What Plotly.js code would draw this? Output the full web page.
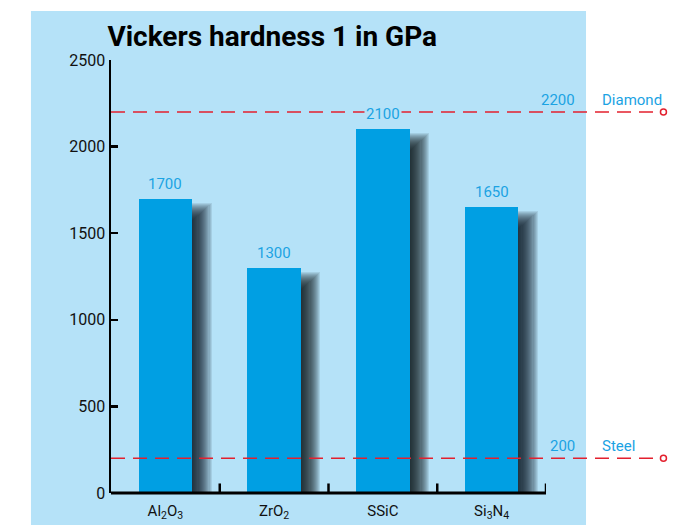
<!DOCTYPE html>
<html><head><meta charset="utf-8">
<script src="https://cdn.plot.ly/plotly-3.0.1.min.js"></script>
<style>html,body{margin:0;padding:0;background:#fff}#chart{width:684px;height:525px}</style>
</head><body><div id="chart"></div>
<script>
const categories = ['Al<sub>2</sub>O<sub>3</sub>', 'ZrO<sub>2</sub>', 'SSiC', 'Si<sub>3</sub>N<sub>4</sub>'];
const hardness = [1700, 1300, 2100, 1650];
const refNames = ['Diamond', 'Steel'];
const refValues = [2200, 200];
const yTickVals = [0, 500, 1000, 1500, 2000, 2500];

const FONT = 'Roboto, Liberation Sans, sans-serif';
const PANEL = '#b5e2f8';
const BAR = '#009fe3';
const TXT = '#1ba3e3';
const RED = '#e3202e';

const xIdx = categories.map((c, i) => i);
const pxX = 1 / 108.75;      // data units per pixel (x)
const pxY = 2500 / 433;      // data units per pixel (y)
const barW = 0.49;

const traces = [];
// soft drop shadow built from stacked translucent bars
const nLayers = 18;
for (let k = 0; k < nLayers; k++) {
  const r = -10 + k * 1.1;
  traces.push({
    type: 'bar', x: xIdx, y: hardness.map(v => v - (12 - r * 0.9) * pxY),
    offset: 0, width: (barW / 2) + (11 + r) * pxX,
    marker: { color: '#0e171b', line: { width: 0 } }, opacity: 0.095,
    hoverinfo: 'skip', showlegend: false
  });
}
traces.push({
  type: 'bar', x: xIdx, y: hardness, offset: -barW / 2, width: barW,
  marker: { color: BAR, line: { width: 0 } }, showlegend: false
});

const shapes = [
  { type: 'rect', xref: 'paper', yref: 'paper', x0: -0.184, x1: 1.092, y0: -0.08, y1: 1.113,
    fillcolor: PANEL, line: { width: 0 }, layer: 'below' },
  { type: 'line', xref: 'x', yref: 'paper', x0: -0.51, x1: 3.5, y0: 0, y1: 0,
    line: { color: '#000', width: 3 } }
];
[0.5, 1.5, 2.5, 3.5].forEach(t => shapes.push({
  type: 'line', xref: 'x', yref: 'paper', x0: t, x1: t, y0: 0, y1: 0.022,
  line: { color: '#000', width: 2.5 }
}));
refValues.forEach(v => {
  shapes.push({ type: 'line', xref: 'paper', yref: 'y', x0: 0, x1: 1.262, y0: v, y1: v,
    line: { color: RED, width: 1.5, dash: '14px,8px' } });
  shapes.push({ type: 'circle', xref: 'paper', yref: 'y', xsizemode: 'pixel', ysizemode: 'pixel',
    xanchor: 1.27, yanchor: v, x0: -3, x1: 3, y0: -3, y1: 3,
    line: { color: RED, width: 1.5 }, fillcolor: '#fff' });
});

const annotations = [];
hardness.forEach((v, i) => annotations.push({
  x: i, y: v, xref: 'x', yref: 'y', text: String(v), showarrow: false,
  yanchor: 'bottom', yshift: 4, bgcolor: PANEL, borderpad: 1,
  font: { family: FONT, size: 15, color: TXT }
}));
refValues.forEach((v, i) => {
  annotations.push({ x: 1.071, y: v, xref: 'paper', yref: 'y', text: String(v), showarrow: false,
    xanchor: 'right', yanchor: 'middle', yshift: 12, font: { family: FONT, size: 15, color: TXT } });
  annotations.push({ x: 1.124, y: v, xref: 'paper', yref: 'y', text: refNames[i], showarrow: false,
    xanchor: 'left', yanchor: 'middle', yshift: 12, font: { family: FONT, size: 15, color: TXT } });
});

const layout = {
  width: 684, height: 525,
  margin: { l: 111, r: 138, t: 60, b: 32 },
  paper_bgcolor: '#ffffff', plot_bgcolor: 'rgba(0,0,0,0)',
  barmode: 'overlay', bargap: 0,
  font: { family: FONT, color: '#111' },
  title: { text: '<b>Vickers hardness 1 in GPa</b>', xref: 'container', x: 0.157, xanchor: 'left',
    y: 0.932, yanchor: 'middle', font: { family: FONT, size: 28, color: '#000' } },
  xaxis: { range: [-0.5, 3.5], tickvals: xIdx, ticktext: categories, showgrid: false,
    zeroline: false, showline: false, ticks: '', ticklabelstandoff: 7,
    tickfont: { family: FONT, size: 15, color: '#111' }, fixedrange: true },
  yaxis: { range: [0, 2500], tickvals: yTickVals, ticktext: yTickVals.map(String), showgrid: false,
    zeroline: false, showline: true, linecolor: '#000', linewidth: 2.5, ticks: 'inside',
    ticklen: 7, tickwidth: 2.5, tickcolor: '#000', tickfont: { family: FONT, size: 16, color: '#111' },
    fixedrange: true },
  shapes: shapes, annotations: annotations
};

Plotly.newPlot('chart', traces, layout, { displayModeBar: false, staticPlot: true });
</script>
</body></html>
